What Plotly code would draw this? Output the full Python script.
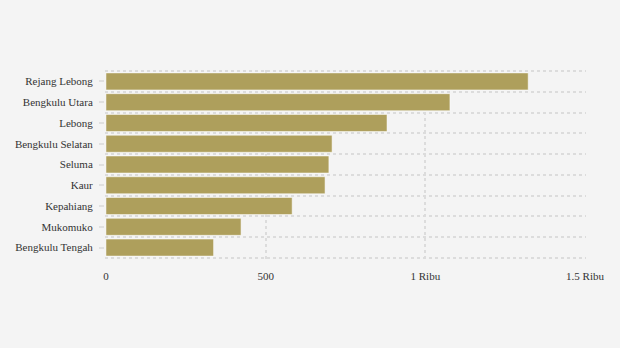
import plotly.graph_objects as go

# Regencies / cities in Bengkulu province, largest value on top
regions = [
    "Rejang Lebong", "Bengkulu Utara", "Lebong", "Bengkulu Selatan",
    "Seluma", "Kaur", "Kepahiang", "Mukomuko", "Bengkulu Tengah",
]
values = [1322, 1077, 880, 708, 698, 686, 583, 423, 337]

x_tick_vals = [0, 500, 1000, 1500]
x_tick_text = ["0", "500", "1 Ribu", "1.5 Ribu"]

# numeric y positions so grid lines can sit between the bars
n = len(regions)
y_pos = [n - 1 - i for i in range(n)]
boundaries = [k - 0.5 for k in range(n + 1)]

bar_color = "#ae9f5c"
grid_color = "#dcdcdc"
tick_color = "#e0e0e0"
bg = "#f4f4f4"
font_family = "Liberation Serif, Times New Roman, serif"

fig = go.Figure(
    go.Bar(
        x=values,
        y=y_pos,
        orientation="h",
        marker=dict(color=bar_color, line=dict(color="rgba(255,255,255,0.5)", width=1)),
        width=0.82,
        hoverinfo="skip",
    )
)

fig.update_layout(
    width=620,
    height=348,
    margin=dict(l=105, r=34, t=70, b=89),
    paper_bgcolor=bg,
    plot_bgcolor=bg,
    showlegend=False,
    font=dict(family=font_family, size=11, color="#333333"),
)

# ranges padded by a hair so the edge grid lines are drawn too
fig.update_xaxes(
    range=[-3, 1503],
    tickvals=x_tick_vals,
    ticktext=x_tick_text,
    showgrid=True,
    gridcolor=grid_color,
    griddash="3px,3px",
    gridwidth=2,
    zeroline=False,
    showline=False,
    ticks="",
    ticklabelstandoff=9,
    tickfont=dict(family=font_family, size=11, color="#333333"),
)

fig.update_yaxes(
    range=[-0.55, n - 0.45],
    tickvals=y_pos,
    ticktext=regions,
    showgrid=False,
    zeroline=False,
    showline=False,
    ticks="outside",
    ticklen=5,
    tickwidth=2,
    tickcolor=tick_color,
    ticklabelstandoff=4,
    tickfont=dict(family=font_family, size=11, color="#333333"),
    minor=dict(
        tickvals=boundaries,
        showgrid=True,
        gridcolor=grid_color,
        griddash="3px,3px",
        gridwidth=2,
        ticks="",
    ),
)

fig.write_html("out.html")
